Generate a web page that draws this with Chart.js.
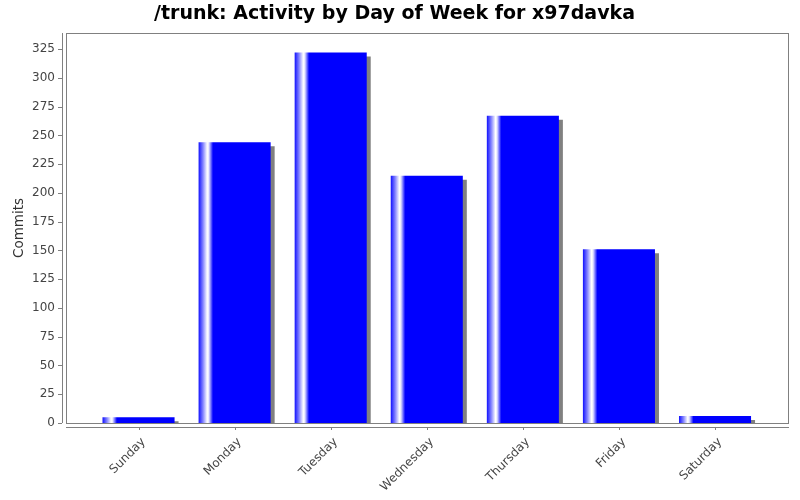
<!DOCTYPE html>
<html>
<head>
<meta charset="utf-8">
<title>/trunk: Activity by Day of Week for x97davka</title>
<script src="https://cdn.jsdelivr.net/npm/chart.js@4.4.1/dist/chart.umd.min.js"></script>
<style>
  body { margin: 0; background: #fff; }
  canvas { display: block; }
</style>
</head>
<body>
<canvas id="dayOfWeek" width="800" height="500"></canvas>
<script>
const days = ["Sunday", "Monday", "Tuesday", "Wednesday", "Thursday", "Friday", "Saturday"];
const commits = [5, 244, 322, 215, 267, 151, 6];
const yTicks = [0, 25, 50, 75, 100, 125, 150, 175, 200, 225, 250, 275, 300, 325];

const axisGray = "#808080";
const textGray = "#444444";
const font = "DejaVu Sans";

// bar fill: blue with the light band near the left edge
function barGradient(context) {
  const chart = context.chart;
  const xs = chart.scales.x;
  if (!chart.chartArea || !xs || context.dataIndex === undefined) return "#0000ff";
  const step = xs.getPixelForValue(1) - xs.getPixelForValue(0);
  const half = step * 0.375;
  const cx = xs.getPixelForValue(context.dataIndex);
  const g = chart.ctx.createLinearGradient(cx - half, 0, cx + half, 0);
  g.addColorStop(0, "#1010ff");
  g.addColorStop(0.06, "#8080ff");
  g.addColorStop(0.12, "#ffffff");
  g.addColorStop(0.14, "#e8e8ff");
  g.addColorStop(0.2, "#0000ff");
  g.addColorStop(1, "#0000ff");
  return g;
}

// plot outline + axis lines set a bit away from it, with small tick marks
const framePlugin = {
  id: "frame",
  beforeDatasetsDraw(chart) {
    const { ctx, chartArea: a, scales: { x, y } } = chart;
    ctx.save();
    ctx.strokeStyle = axisGray;
    ctx.lineWidth = 1;
    ctx.strokeRect(a.left + 0.5, a.top + 0.5, a.right - a.left - 1, a.bottom - a.top);

    ctx.beginPath();
    ctx.moveTo(a.left - 3.5, a.top);
    ctx.lineTo(a.left - 3.5, a.bottom);
    yTicks.forEach(v => {
      const py = Math.round(y.getPixelForValue(v)) + 0.5;
      ctx.moveTo(a.left - 8, py);
      ctx.lineTo(a.left - 4, py);
    });
    ctx.moveTo(a.left, a.bottom + 4.5);
    ctx.lineTo(a.right, a.bottom + 4.5);
    days.forEach((d, i) => {
      const px = Math.round(x.getPixelForValue(i)) + 0.5;
      ctx.moveTo(px, a.bottom + 4);
      ctx.lineTo(px, a.bottom + 7);
    });
    ctx.stroke();
    ctx.restore();
  }
};

const shadowPlugin = {
  id: "barShadow",
  beforeDatasetDraw(chart) {
    const ctx = chart.ctx;
    ctx.save();
    ctx.shadowColor = axisGray;
    ctx.shadowOffsetX = 4;
    ctx.shadowOffsetY = 4;
    ctx.shadowBlur = 0;
  },
  afterDatasetDraw(chart) {
    chart.ctx.restore();
  }
};

const ctx = document.getElementById("dayOfWeek").getContext("2d");
new Chart(ctx, {
  type: "bar",
  data: {
    datasets: [{
      label: "Commits",
      data: days.map((d, i) => ({ x: i, y: commits[i] })),
      backgroundColor: barGradient,
      borderWidth: 0,
      barPercentage: 0.75,
      categoryPercentage: 1
    }]
  },
  options: {
    responsive: false,
    animation: false,
    layout: { padding: { left: 0, right: 11, top: 0, bottom: 0 } },
    plugins: {
      legend: { display: false },
      tooltip: { enabled: false },
      title: {
        display: true,
        text: "/trunk: Activity by Day of Week for x97davka",
        color: "#000",
        font: { family: font, size: 19, weight: "bold" },
        padding: { top: 2.5, bottom: 7.7 }
      }
    },
    scales: {
      x: {
        type: "linear",
        min: -0.755,
        max: 6.77,
        offset: false,
        grid: { display: false, drawTicks: false },
        border: { display: false },
        afterBuildTicks: s => { s.ticks = days.map((d, i) => ({ value: i })); },
        afterFit: s => { s.height = 77; },
        ticks: {
          autoSkip: false,
          minRotation: 45,
          maxRotation: 45,
          padding: 12,
          labelOffset: 5,
          color: textGray,
          font: { family: font, size: 12 },
          callback: v => days[v]
        }
      },
      y: {
        min: 0,
        max: 339,
        grid: { display: false, drawTicks: false },
        border: { display: false },
        afterBuildTicks: s => { s.ticks = yTicks.map(v => ({ value: v })); },
        afterFit: s => { s.width = 66; },
        ticks: {
          padding: 11,
          color: textGray,
          font: { family: font, size: 12 }
        },
        title: {
          display: true,
          text: "Commits",
          color: "#333",
          font: { family: font, size: 13.5 },
          padding: { top: 11.5, bottom: 0 }
        }
      }
    }
  },
  plugins: [framePlugin, shadowPlugin]
});
</script>
</body>
</html>
